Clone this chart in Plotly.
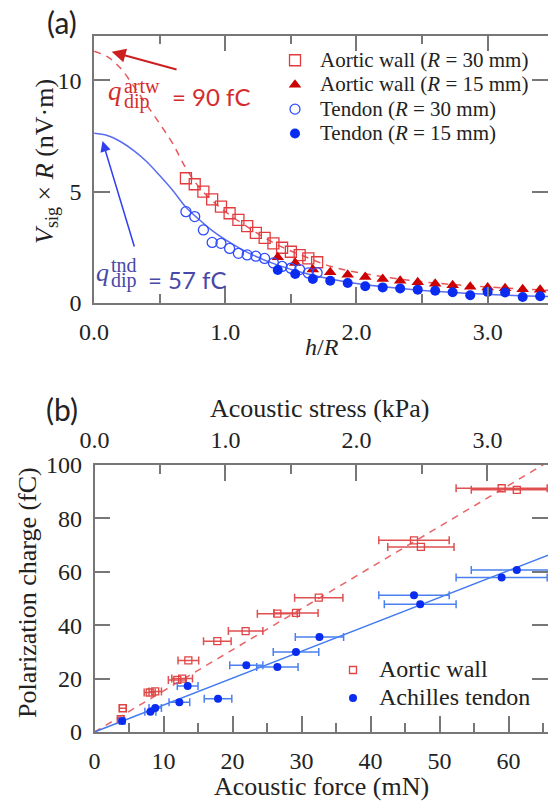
import plotly.graph_objects as go

W, H = 548, 803

# ---------------- Panel (a) data ----------------
h_R30 = [0.700, 0.767, 0.833, 0.900, 0.967, 1.033, 1.100, 1.167, 1.233, 1.300,
         1.367, 1.433, 1.500, 1.567, 1.633, 1.700]
aortic_R30 = [5.60, 5.33, 5.00, 4.65, 4.33, 4.03, 3.73, 3.45, 3.15, 2.92,
              2.68, 2.48, 2.30, 2.15, 2.00, 1.83]
tendon_R30 = [4.10, 3.88, 3.28, 2.72, 2.68, 2.45, 2.23, 2.16, 2.10, 2.00,
              1.80, 1.64, 1.56, 1.50, 1.35, 1.36]

h_R15 = [1.400, 1.533, 1.667, 1.800, 1.933, 2.067, 2.200, 2.333, 2.467, 2.600,
         2.733, 2.867, 3.000, 3.133, 3.267, 3.400]
aortic_R15 = [2.05, 1.80, 1.50, 1.38, 1.27, 1.17, 1.08, 1.00, 0.93, 0.86,
              0.80, 0.73, 0.70, 0.66, 0.62, 0.60]
tendon_R15 = [1.48, 1.30, 1.08, 1.00, 0.90, 0.75, 0.70, 0.65, 0.60, 0.55,
              0.48, 0.35, 0.50, 0.47, 0.27, 0.30]

model_h = [0.0, 0.1, 0.2, 0.3, 0.4, 0.5, 0.6, 0.7, 0.8, 0.9, 1.0, 1.2, 1.4,
           1.6, 1.8, 2.0, 2.4, 2.8, 3.2, 3.5]
model_tendon = [7.62, 7.52, 7.25, 6.85, 6.35, 5.72, 5.05, 4.30, 3.75, 3.25,
                2.85, 2.18, 1.70, 1.35, 1.08, 0.88, 0.62, 0.45, 0.34, 0.28]
model_aortic = [11.30, 11.06, 10.55, 9.75, 8.90, 8.05, 7.15, 6.05, 5.20, 4.60,
                4.10, 3.30, 2.60, 2.10, 1.65, 1.38, 1.02, 0.80, 0.65, 0.56]

# ---------------- Panel (b) data ----------------
aw_force = [4.1, 3.8, 8.0, 8.8, 12.0, 12.7, 13.6, 17.8, 21.9, 26.5, 29.2, 32.5,
            46.3, 47.3, 59.0, 61.2]
aw_charge = [8.9, 4.8, 14.8, 15.2, 19.5, 20.0, 26.8, 34.0, 37.8, 44.3, 44.6, 50.3,
             71.8, 69.3, 91.3, 90.7]
aw_err = [0.5, 0.4, 0.8, 0.9, 1.3, 1.5, 1.5, 2.0, 2.5, 2.9, 3.2, 3.5,
          5.1, 4.8, 6.6, 6.6]

at_force = [4.0, 8.1, 8.8, 12.3, 13.5, 17.9, 22.0, 26.5, 29.2, 32.6,
            46.3, 47.2, 59.0, 61.2]
at_charge = [4.1, 7.6, 9.0, 11.1, 17.2, 12.5, 25.0, 24.3, 30.0, 35.6,
             51.2, 47.8, 57.9, 60.7]
at_err = [0.4, 0.8, 0.9, 1.5, 1.5, 2.0, 2.4, 3.0, 3.3, 3.5,
          5.1, 5.2, 6.6, 6.6]

fit_force = [0.0, 66.0]
fit_aortic = [0.0, 101.6]
fit_tendon = [0.0, 66.5]

RED = "#e23b3e"
DRED = "#cc0000"
BLUE = "#2f4cff"
DBLUE = "#0a2cf0"
LBLUE = "#5a6cf0"
SERIF = "Liberation Serif"
AX = "#777777"
TXT = "#222222"


def px(x):
    return x / W


def py(y):
    return 1 - y / H


fig = go.Figure()

# model curves (a)
fig.add_trace(go.Scatter(x=model_h, y=model_aortic, mode="lines", line_shape="spline",
                         line=dict(color="#e8585a", width=1.5, dash="7px,6px"),
                         showlegend=False, xaxis="x", yaxis="y"))
fig.add_trace(go.Scatter(x=model_h, y=model_tendon, mode="lines", line_shape="spline",
                         line=dict(color=LBLUE, width=1.5),
                         showlegend=False, xaxis="x", yaxis="y"))


def lg(t, size):
    return f'<span style="font-size:{size}px;font-family:{SERIF}">{t}</span>'


fig.add_trace(go.Scatter(x=h_R30, y=aortic_R30, mode="markers",
                         name=lg("Aortic wall (<i>R</i> = 30 mm)", 21),
                         marker=dict(symbol="square-open", size=11, color=RED,
                                     line=dict(width=1.3, color=RED)),
                         xaxis="x", yaxis="y", legend="legend", legendrank=1))
fig.add_trace(go.Scatter(x=h_R15, y=aortic_R15, mode="markers",
                         name=lg("Aortic wall (<i>R</i> = 15 mm)", 21),
                         marker=dict(symbol="triangle-up", size=11, color=DRED),
                         xaxis="x", yaxis="y", legend="legend", legendrank=2))
fig.add_trace(go.Scatter(x=h_R30, y=tendon_R30, mode="markers",
                         name=lg("Tendon (<i>R</i> = 30 mm)", 21),
                         marker=dict(symbol="circle-open", size=10, color=BLUE,
                                     line=dict(width=1.3, color=BLUE)),
                         xaxis="x", yaxis="y", legend="legend", legendrank=3))
fig.add_trace(go.Scatter(x=h_R15, y=tendon_R15, mode="markers",
                         name=lg("Tendon (<i>R</i> = 15 mm)", 21),
                         marker=dict(symbol="circle", size=10, color=DBLUE),
                         xaxis="x", yaxis="y", legend="legend", legendrank=4))

# panel (b)
fig.add_trace(go.Scatter(x=fit_force, y=fit_aortic, mode="lines",
                         line=dict(color="#e86466", width=1.5, dash="7px,6px"),
                         showlegend=False, xaxis="x2", yaxis="y2"))
fig.add_trace(go.Scatter(x=fit_force, y=fit_tendon, mode="lines",
                         line=dict(color="#3f78f0", width=1.5),
                         showlegend=False, xaxis="x2", yaxis="y2"))
fig.add_trace(go.Scatter(x=aw_force, y=aw_charge, mode="markers", name=lg("Aortic wall", 24),
                         error_x=dict(type="data", array=aw_err, color="#e05050",
                                      thickness=1.5, width=4),
                         marker=dict(symbol="square-open", size=7, color="#e04444",
                                     line=dict(width=1.3, color="#e04444")),
                         xaxis="x2", yaxis="y2", legend="legend2"))
fig.add_trace(go.Scatter(x=at_force, y=at_charge, mode="markers", name=lg("Achilles tendon", 24),
                         error_x=dict(type="data", array=at_err, color="#4a80f0",
                                      thickness=1.5, width=4),
                         marker=dict(symbol="circle", size=8, color=DBLUE),
                         xaxis="x2", yaxis="y2", legend="legend2"))
# carrier for the top (stress) axis
fig.add_trace(go.Scatter(x=[], y=[], mode="markers", showlegend=False,
                         xaxis="x3", yaxis="y2", hoverinfo="skip"))

tickfont = dict(family=SERIF, size=24, color=TXT)
common = dict(showline=True, linecolor=AX, linewidth=1.5, ticks="inside", ticklen=16,
              tickwidth=1.5, tickcolor=AX, showgrid=False, zeroline=False,
              tickfont=tickfont, automargin=False)

fig.update_layout(
    width=W, height=H, margin=dict(l=0, r=0, t=0, b=0),
    font=dict(family=SERIF, size=24, color=TXT),
    paper_bgcolor="white", plot_bgcolor="white",
    xaxis=dict(domain=[px(94.1), 1], range=[0, 3.46], anchor="y", dtick=1, tick0=0,
               tickformat=".1f", mirror="ticks", ticklabelstandoff=6,
               minor=dict(dtick=0.5, ticks="inside", ticklen=9, tickwidth=1.5, tickcolor=AX),
               **common),
    yaxis=dict(domain=[py(303), py(35.7)], range=[0, 12], anchor="x", dtick=5,
               mirror="ticks", ticklabelstandoff=6, **common),
    xaxis2=dict(domain=[px(94.5), 1], range=[0, 65.72], anchor="y2", dtick=10, tick0=0,
                ticklabelstandoff=6,
                minor=dict(dtick=5, ticks="inside", ticklen=9, tickwidth=1.5, tickcolor=AX),
                **common),
    xaxis3=dict(domain=[px(94.5), 1], range=[0, 3.462], anchor="y2", overlaying="x2",
                side="top", dtick=1, tick0=0, tickformat=".1f", ticklabelstandoff=6,
                minor=dict(dtick=0.5, ticks="inside", ticklen=9, tickwidth=1.5, tickcolor=AX),
                **common),
    yaxis2=dict(domain=[py(732), py(465)], range=[0, 100], anchor="x2", dtick=20,
                mirror="ticks", ticklabelstandoff=6, **common),
    legend=dict(x=px(270), y=py(43), xanchor="left", yanchor="top",
                font=dict(family=SERIF, size=16.5, color=TXT),
                bgcolor="rgba(0,0,0,0)", itemwidth=40, traceorder="normal"),
    legend2=dict(x=px(327), y=py(651), xanchor="left", yanchor="top",
                 font=dict(family=SERIF, size=19.2, color=TXT),
                 bgcolor="rgba(0,0,0,0)", itemwidth=42),
)

ann = []
titlefont = dict(family=SERIF, size=26, color=TXT)


def text(x, y, t, font, angle=0, xa="center", ya="middle"):
    ann.append(dict(x=px(x), y=py(y), xref="paper", yref="paper", text=t, showarrow=False,
                    font=font, textangle=angle, xanchor=xa, yanchor=ya))


# panel labels
text(62, 22, "(a)", dict(family="Lato", size=30, color=TXT))
text(62, 409, "(b)", dict(family="Lato", size=30, color=TXT))

# axis titles
text(322, 347, "<i>h</i>/<i>R</i>", dict(family=SERIF, size=24, color=TXT))
text(46, 162, "<i>V</i><sub>sig</sub> × <i>R</i> (nV·m)", titlefont, angle=-90)
text(320, 408, "Acoustic stress (kPa)", titlefont)
text(321, 786, "Acoustic force (mN)", titlefont)
text(27, 593, "Polarization charge (fC)", titlefont, angle=-90)

# q annotations
REDT = "#d42c2c"
BLUET = "#4848a8"
text(115, 91, "<i>q</i>", dict(family=SERIF, size=27, color=REDT))
text(122, 86, "artw", dict(family=SERIF, size=20, color=REDT), xa="left")
text(122, 101, "dip", dict(family=SERIF, size=20, color=REDT), xa="left")
text(211, 96, "= 90 fC", dict(family="Lato", size=24, color=REDT))

text(102, 272, "<i>q</i>", dict(family=SERIF, size=26, color=BLUET))
text(109, 265, "tnd", dict(family=SERIF, size=20, color=BLUET), xa="left")
text(109, 280, "dip", dict(family=SERIF, size=20, color=BLUET), xa="left")
text(187, 279, "= 57 fC", dict(family="Lato", size=24, color=BLUET))

# arrows (in data coordinates of panel a)
ann.append(dict(x=0.134, y=11.28, ax=0.64, ay=10.46, xref="x", yref="y", axref="x", ayref="y",
                text="", showarrow=True, arrowhead=2, arrowsize=1.4, arrowwidth=2,
                arrowcolor="#cc2020", standoff=0))
ann.append(dict(x=0.064, y=7.27, ax=0.31, ay=2.47, xref="x", yref="y", axref="x", ayref="y",
                text="", showarrow=True, arrowhead=2, arrowsize=1.4, arrowwidth=1.5,
                arrowcolor="#3040f0", standoff=0))

fig.update_layout(annotations=ann)
fig.write_html("out.html")
